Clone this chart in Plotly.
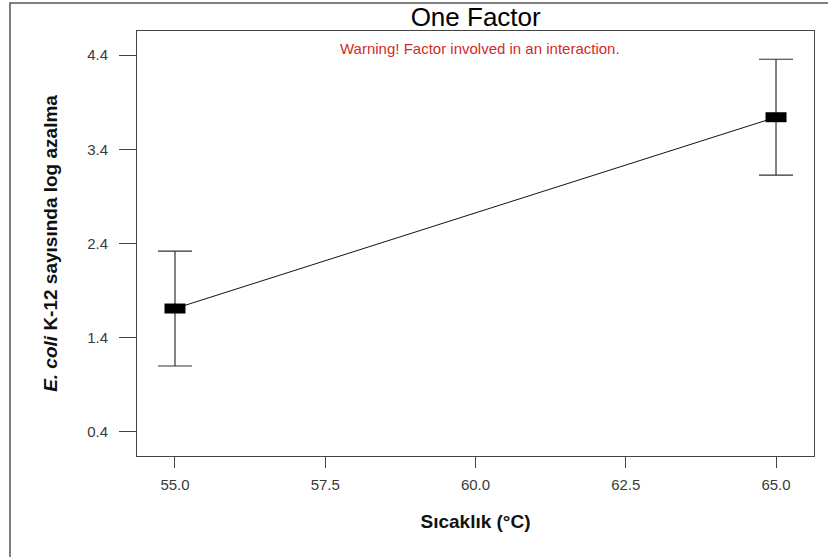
import plotly.graph_objects as go

# Data
temps = [55.0, 65.0]
means = [1.71, 3.74]
errs = [0.61, 0.615]
x_ticks = [55.0, 57.5, 60.0, 62.5, 65.0]
y_ticks = [0.4, 1.4, 2.4, 3.4, 4.4]

title_text = "One Factor"
warning_text = "Warning! Factor involved in an interaction."
x_title = "<b>Sıcaklık (°C)</b>"
y_title = "<b><i>E. coli</i> K-12 sayısında log azalma</b>"

FONT = "Arial, Liberation Sans, sans-serif"

fig = go.Figure()
fig.add_trace(go.Scatter(
    x=temps, y=means,
    mode="lines+markers",
    line=dict(color="#111111", width=1),
    marker=dict(symbol="line-ew", size=15, color="black",
                line=dict(color="black", width=10)),
    error_y=dict(type="data", array=errs, visible=True,
                 color="#333333", thickness=1.2, width=17),
    showlegend=False,
    hoverinfo="x+y",
))

fig.update_layout(
    width=828, height=557,
    margin=dict(l=137, r=14, t=31, b=101),
    paper_bgcolor="white", plot_bgcolor="white",
    font=dict(family=FONT, color="#333333"),
    title=dict(text=title_text, x=0.5745, xanchor="center", y=0.969, yanchor="middle",
               font=dict(size=26, color="black", family=FONT)),
    xaxis=dict(
        range=[54.368, 65.632], tickvals=x_ticks, tickformat=".1f",
        showgrid=False, zeroline=False,
        showline=True, linecolor="#444444", linewidth=1, mirror=True,
        ticks="outside", ticklen=11, tickcolor="#444444",
        ticklabelstandoff=4,
        tickfont=dict(size=15, color="#3a3a3a"),
        title=dict(text=x_title, font=dict(size=19, color="#111111"), standoff=22),
    ),
    yaxis=dict(
        range=[0.145, 4.655], tickvals=y_ticks, tickformat=".1f",
        showgrid=False, zeroline=False,
        showline=True, linecolor="#444444", linewidth=1, mirror=True,
        ticks="outside", ticklen=17, tickcolor="#444444",
        ticklabelstandoff=8,
        tickfont=dict(size=15, color="#3a3a3a"),
        title=dict(text=y_title, font=dict(size=19, color="#111111"), standoff=24),
    ),
)

fig.add_annotation(
    text=warning_text, xref="paper", yref="paper",
    x=0.506, y=0.96, xanchor="center", yanchor="middle",
    showarrow=False, font=dict(size=15, color="#d42a2a", family=FONT),
)

# Outer frame (left and top edges visible)
fig.add_shape(
    type="rect", xref="paper", yref="paper",
    x0=-0.1876, x1=1.03, y0=-0.26, y1=1.066,
    line=dict(color="#555555", width=1.5), layer="below",
)

fig.write_html("out.html")
